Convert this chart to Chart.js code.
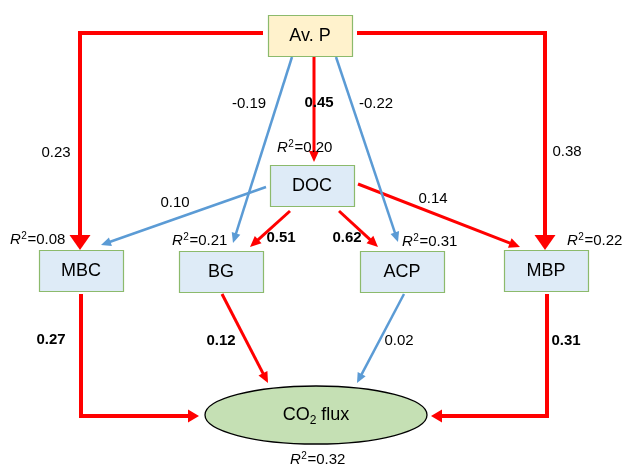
<!DOCTYPE html>
<html>
<head>
<meta charset="utf-8">
<title>Path model: Av. P, DOC, enzymes, microbial biomass and CO2 flux</title>
<script src="https://cdn.jsdelivr.net/npm/chart.js@4"></script>
<style>
  html, body { margin: 0; padding: 0; background: #ffffff; }
  #c { display: block; }
</style>
</head>
<body>
<canvas id="c" width="623" height="465"></canvas>
<script>
// ---- model values ----
const nodeNames = ['Av. P', 'DOC', 'MBC', 'BG', 'ACP', 'MBP', 'CO2 flux'];
const r2Values  = [null, 0.20, 0.08, 0.21, 0.31, 0.22, 0.32];

const pathFrom = ['Av. P', 'Av. P', 'Av. P', 'Av. P', 'Av. P', 'DOC', 'DOC', 'DOC', 'DOC', 'MBC', 'BG', 'ACP', 'MBP'];
const pathTo   = ['MBC', 'MBP', 'BG', 'DOC', 'ACP', 'MBC', 'BG', 'ACP', 'MBP', 'CO2 flux', 'CO2 flux', 'CO2 flux', 'CO2 flux'];
const pathCoef = [0.23, 0.38, -0.19, 0.45, -0.22, 0.10, 0.51, 0.62, 0.14, 0.27, 0.12, 0.02, 0.31];
const pathSignificant = [false, false, false, true, false, false, true, true, false, true, true, false, true];

// ---- diagram layout (value space equals canvas pixels) ----
const RED = '#FF0000';
const BLUE = '#5B9BD5';
const FONT = "'Liberation Sans', Arial, Helvetica, sans-serif";

const nodeLayout = {
  'Av. P':    { x: 310, y: 35,  w: 84, h: 41, fill: '#FFF2CC' },
  'DOC':      { x: 312, y: 185, w: 84, h: 41, fill: '#DEEBF7' },
  'MBC':      { x: 81,  y: 270, w: 84, h: 41, fill: '#DEEBF7' },
  'BG':       { x: 221, y: 271, w: 84, h: 41, fill: '#DEEBF7' },
  'ACP':      { x: 402, y: 271, w: 84, h: 41, fill: '#DEEBF7' },
  'MBP':      { x: 546, y: 270, w: 84, h: 41, fill: '#DEEBF7' },
  'CO2 flux': { x: 316, y: 415, rx: 111, ry: 29, fill: '#C5E0B4', ellipse: true }
};

// R² label anchors (left edge, vertical centre)
const r2Anchor = {
  'DOC': [277, 148], 'MBC': [10, 240], 'BG': [172, 241],
  'ACP': [402, 242], 'MBP': [567, 241], 'CO2 flux': [290, 460]
};

// route of each arrow, one entry per path; the last point is the arrow tip
const pathRoute = [
  [[263, 33], [80, 33], [80, 250]],
  [[357, 33], [545, 33], [545, 250]],
  [[292, 57], [233, 243]],
  [[314, 57], [314, 162]],
  [[336, 57], [398, 242]],
  [[266, 187], [101, 245]],
  [[290, 211], [250, 247]],
  [[339, 211], [378, 247]],
  [[358, 184], [520, 247]],
  [[81, 294], [81, 416], [199, 416]],
  [[222, 294], [268, 383]],
  [[404, 294], [357, 383]],
  [[547, 294], [547, 416], [431, 416]]
];
const pathColor = [RED, RED, BLUE, RED, BLUE, BLUE, RED, RED, RED, RED, RED, BLUE, RED];
const pathWidth = [4, 4, 2.5, 3, 2.5, 2.5, 3, 3, 3, 4, 3, 2.5, 4];
// arrowhead [length, width]
const pathHead = [[15, 21], [15, 21], [10, 9], [11, 10], [10, 9], [10, 9], [11, 10], [11, 10], [11, 10], [11, 13], [11, 10], [10, 9], [11, 13]];
// coefficient label centres
const pathLabelPos = [
  [56, 153], [567, 152], [249, 104], [319, 103], [376, 104], [175, 203],
  [281, 238], [347, 238], [433, 199], [51, 340], [221, 341], [399, 341], [566, 341]
];

// shorten each route so the stroke stops under its arrowhead
function lineData(i) {
  const pts = pathRoute[i].map(p => ({ x: p[0], y: p[1] }));
  const n = pts.length;
  const a = pts[n - 2], b = pts[n - 1];
  const dx = b.x - a.x, dy = b.y - a.y, len = Math.hypot(dx, dy);
  const back = pathHead[i][0] - 1;
  pts[n - 1] = { x: b.x - dx / len * back, y: b.y - dy / len * back };
  return pts;
}

const datasets = pathCoef.map((c, i) => ({
  label: pathFrom[i] + ' → ' + pathTo[i],
  data: lineData(i),
  showLine: true,
  borderColor: pathColor[i],
  borderWidth: pathWidth[i],
  borderCapStyle: 'butt',
  borderJoinStyle: 'miter',
  pointRadius: 0,
  tension: 0,
  fill: false
}));

function drawR2(ctx, x, y, v) {
  ctx.textBaseline = 'middle';
  ctx.textAlign = 'left';
  ctx.fillStyle = '#000';
  ctx.font = 'italic 15px ' + FONT;
  ctx.fillText('R', x, y);
  x += ctx.measureText('R').width + 0.5;
  ctx.font = '10px ' + FONT;
  ctx.fillText('2', x, y - 4);
  x += ctx.measureText('2').width + 0.5;
  ctx.font = '15px ' + FONT;
  ctx.fillText('=' + v.toFixed(2), x, y);
}

const diagramPlugin = {
  id: 'pathDiagram',
  afterDatasetsDraw(chart) {
    const ctx = chart.ctx;
    const xs = chart.scales.x, ys = chart.scales.y;
    const px = v => xs.getPixelForValue(v);
    const py = v => ys.getPixelForValue(v);
    ctx.save();

    // arrowheads
    pathRoute.forEach((r, i) => {
      const a = r[r.length - 2], b = r[r.length - 1];
      const ax = px(a[0]), ay = py(a[1]), bx = px(b[0]), by = py(b[1]);
      const dx = bx - ax, dy = by - ay, len = Math.hypot(dx, dy);
      const ux = dx / len, uy = dy / len;
      const [L, W] = pathHead[i];
      const cx = bx - ux * L, cy = by - uy * L;
      ctx.beginPath();
      ctx.moveTo(bx, by);
      ctx.lineTo(cx - uy * W / 2, cy + ux * W / 2);
      ctx.lineTo(cx + uy * W / 2, cy - ux * W / 2);
      ctx.closePath();
      ctx.fillStyle = pathColor[i];
      ctx.fill();
    });

    // nodes
    nodeNames.forEach(name => {
      const n = nodeLayout[name];
      const cx = px(n.x), cy = py(n.y);
      ctx.beginPath();
      if (n.ellipse) {
        ctx.ellipse(cx, cy, n.rx, n.ry, 0, 0, Math.PI * 2);
        ctx.fillStyle = n.fill;
        ctx.fill();
        ctx.lineWidth = 1.3;
        ctx.strokeStyle = '#000000';
        ctx.stroke();
      } else {
        ctx.rect(Math.round(cx - n.w / 2) + 0.5, Math.round(cy - n.h / 2) + 0.5, n.w, n.h);
        ctx.fillStyle = n.fill;
        ctx.fill();
        ctx.lineWidth = 1.2;
        ctx.strokeStyle = '#8CBA6C';
        ctx.stroke();
      }
      ctx.fillStyle = '#000';
      ctx.textBaseline = 'middle';
      if (name === 'CO2 flux') {
        ctx.font = '18px ' + FONT;
        const w1 = ctx.measureText('CO').width;
        const w3 = ctx.measureText(' flux').width;
        ctx.font = '12px ' + FONT;
        const w2 = ctx.measureText('2').width;
        let x = cx - (w1 + w2 + w3) / 2;
        ctx.textAlign = 'left';
        ctx.font = '18px ' + FONT;
        ctx.fillText('CO', x, cy);
        x += w1;
        ctx.font = '12px ' + FONT;
        ctx.fillText('2', x, cy + 6);
        x += w2;
        ctx.font = '18px ' + FONT;
        ctx.fillText(' flux', x, cy);
      } else {
        ctx.textAlign = 'center';
        ctx.font = '18px ' + FONT;
        ctx.fillText(name, cx, cy + 1);
      }
    });

    // coefficients
    pathCoef.forEach((c, i) => {
      const p = pathLabelPos[i];
      ctx.font = (pathSignificant[i] ? 'bold ' : '') + '15px ' + FONT;
      ctx.fillStyle = '#000';
      ctx.textAlign = 'center';
      ctx.textBaseline = 'middle';
      ctx.fillText(c.toFixed(2), px(p[0]), py(p[1]));
    });

    // explained variance
    nodeNames.forEach((name, i) => {
      if (r2Values[i] === null) return;
      const a = r2Anchor[name];
      drawR2(ctx, px(a[0]), py(a[1]), r2Values[i]);
    });

    ctx.restore();
  }
};

new Chart(document.getElementById('c'), {
  type: 'scatter',
  data: { datasets },
  options: {
    responsive: false,
    devicePixelRatio: 1,
    animation: false,
    events: [],
    layout: { padding: 0 },
    plugins: { legend: { display: false }, tooltip: { enabled: false } },
    scales: {
      x: { type: 'linear', min: 0, max: 623, display: false },
      y: { type: 'linear', min: 0, max: 465, reverse: true, display: false }
    }
  },
  plugins: [diagramPlugin]
});
</script>
</body>
</html>
